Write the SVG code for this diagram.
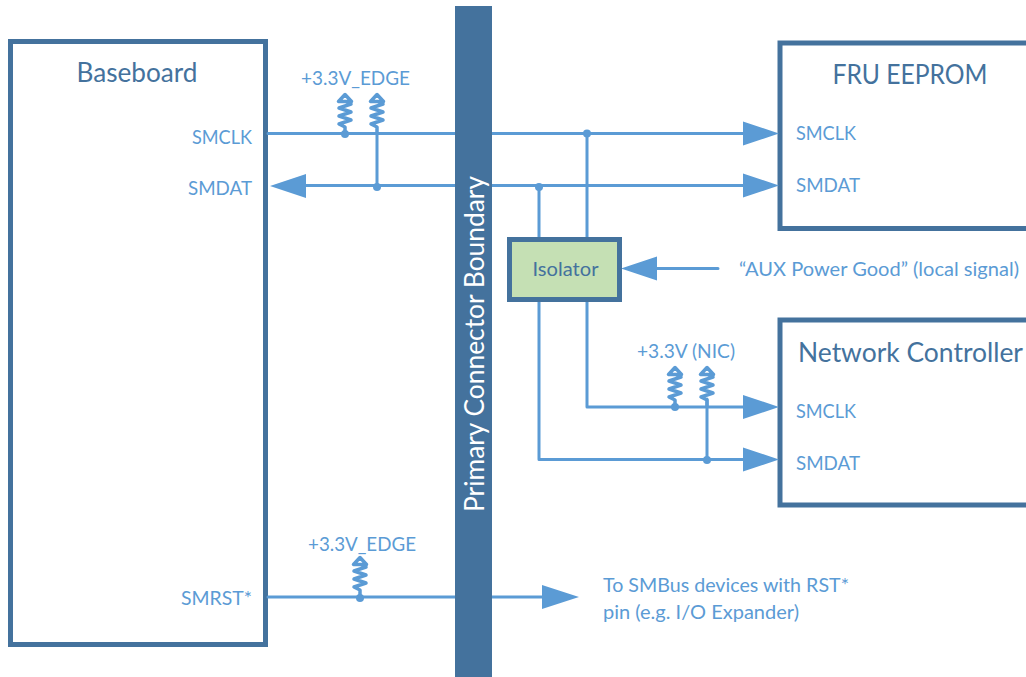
<svg xmlns="http://www.w3.org/2000/svg" width="1026" height="677" viewBox="0 0 1026 677">
<style>
text{font-family:Lato,"Open Sans","Liberation Sans",sans-serif}
.box{fill:#fff;stroke:#44729d;stroke-width:5}
.t{fill:#44729d;font-size:26px}
.s{fill:#5b9bd5;font-size:18.500px}
.w{fill:none;stroke:#5b9bd5;stroke-width:3;stroke-linejoin:round;stroke-linecap:round}
.h{fill:#5b9bd5}
.z{fill:none;stroke:#5b9bd5;stroke-width:3.500;stroke-linejoin:round}
</style>
<defs>
<g id="res">
<path class="z" d="M0 0V-7L-6 -10L6 -14L-6 -18L6 -22L-6 -26L6 -30L0 -33V-38"/>
<path d="M0 -39.500L-6.500 -32.500H6.500Z" fill="#fff" stroke="#5b9bd5" stroke-width="3.500" stroke-linejoin="round"/>
</g>
</defs>
<g id="baseboard">
<rect class="box" x="10.500" y="41.500" width="255" height="603"/>
<text class="t" x="137" y="82" text-anchor="middle" textLength="121" lengthAdjust="spacingAndGlyphs">Baseboard</text>
<text class="s" x="252" y="144" text-anchor="end" textLength="60" lengthAdjust="spacingAndGlyphs">SMCLK</text>
<text class="s" x="252" y="195" text-anchor="end" textLength="64" lengthAdjust="spacingAndGlyphs">SMDAT</text>
<text class="s" x="252" y="605" text-anchor="end" textLength="71" lengthAdjust="spacingAndGlyphs">SMRST*</text>
</g>
<g id="fru-eeprom">
<path class="box" d="M1030 43H780V228.500H1030"/>
<text class="t" x="910" y="84" text-anchor="middle" textLength="155" lengthAdjust="spacingAndGlyphs">FRU EEPROM</text>
<text class="s" x="796" y="140" textLength="60" lengthAdjust="spacingAndGlyphs">SMCLK</text>
<text class="s" x="796" y="192" textLength="64" lengthAdjust="spacingAndGlyphs">SMDAT</text>
</g>
<g id="network-controller">
<path class="box" d="M1030 320H780V505H1030"/>
<text class="t" x="798" y="362" textLength="225" lengthAdjust="spacingAndGlyphs">Network Controller</text>
<text class="s" x="796" y="418" textLength="60" lengthAdjust="spacingAndGlyphs">SMCLK</text>
<text class="s" x="796" y="470" textLength="64" lengthAdjust="spacingAndGlyphs">SMDAT</text>
</g>
<g id="connectors">
<path class="w" d="M268 133.500H745M304 185.500H745M587 133.500V237M539 185.500V237M587 302V407H745M539 302V459.500H745M655 268.500H718M268 597H545"/>
<path class="h" d="M270 186L306 174V198ZM779 133.500L743 121.500V145.500ZM779 185.500L743 173.500V197.500ZM779 407L743 395V419ZM779 459.500L743 447.500V471.500ZM621 268.500L657 256.500V280.500ZM579 597L542 585V609Z"/>
<g class="h"><circle cx="345" cy="134" r="4"/><circle cx="377" cy="187" r="4"/><circle cx="587" cy="133.500" r="4"/><circle cx="539" cy="187" r="4"/><circle cx="675" cy="407" r="4"/><circle cx="707" cy="460" r="4"/><circle cx="360" cy="598" r="4"/></g>
<path class="w" d="M377 133V187M707 399V460"/>
<use href="#res" x="345" y="134"/>
<use href="#res" x="377" y="134"/>
<use href="#res" x="675" y="407"/>
<use href="#res" x="707" y="407"/>
<use href="#res" x="360" y="597"/>
</g>
<g id="primary-connector-boundary">
<rect x="455" y="6" width="37" height="671" fill="#44729d"/>
<text transform="translate(484,344) rotate(-90)" text-anchor="middle" fill="#fff" font-size="26" textLength="336" lengthAdjust="spacingAndGlyphs">Primary Connector Boundary</text>
</g>
<g id="isolator">
<rect x="509.500" y="239.500" width="110" height="60" fill="#c5e0b4" stroke="#44729d" stroke-width="5"/>
<text x="565.500" y="276" text-anchor="middle" fill="#44729d" font-size="18.500" textLength="66" lengthAdjust="spacingAndGlyphs">Isolator</text>
</g>
<g id="labels">
<text class="s" x="301" y="85" textLength="109" lengthAdjust="spacingAndGlyphs">+3.3V_EDGE</text>
<text class="s" x="308" y="551" textLength="108" lengthAdjust="spacingAndGlyphs">+3.3V_EDGE</text>
<text class="s" x="637" y="358" textLength="98" lengthAdjust="spacingAndGlyphs">+3.3V (NIC)</text>
<text class="s" x="739" y="276" textLength="280" lengthAdjust="spacingAndGlyphs">“AUX Power Good” (local signal)</text>
<text class="s" x="603" y="592" textLength="246" lengthAdjust="spacingAndGlyphs">To SMBus devices with RST*</text>
<text class="s" x="603" y="619" textLength="196" lengthAdjust="spacingAndGlyphs">pin (e.g. I/O Expander)</text>
</g>
</svg>
